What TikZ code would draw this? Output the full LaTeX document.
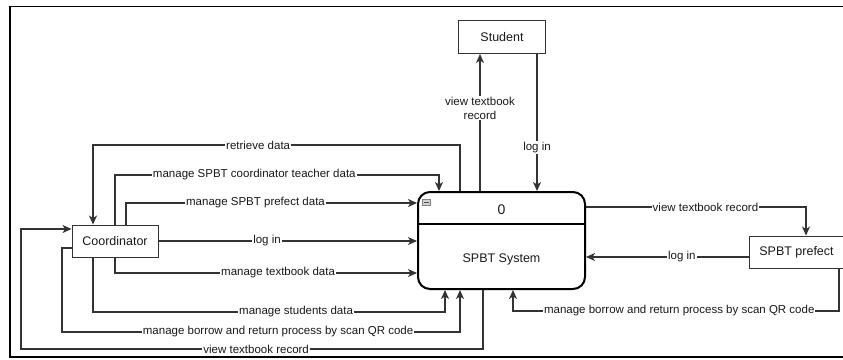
\documentclass[tikz,border=0pt]{standalone}
\usepackage{fontspec}
\setmainfont{Liberation Sans}
\usetikzlibrary{positioning, arrows.meta}

\begin{document}
\begin{tikzpicture}[x=1pt, y=-1pt,
        ent/.style={draw=black!80, line width=0.9pt, minimum height=33pt, text=black!90, font=\fontsize{12.5}{15}\selectfont},
        lbl/.style={fill=white, inner sep=1pt, text=black!90, font=\fontsize{11.5}{13.5}\selectfont},
        flow/.style={draw=black!80, line width=1.4pt, -{Stealth[length=9pt, width=8pt, inset=2.5pt]}}]
        \useasboundingbox (0,0) rectangle (843,359);
        \draw[line width=1.6pt] (10,6.5) rectangle (870,357);

        \node [ent, minimum width=87pt] (student) at (502,37) {Student};
        \node [ent, minimum width=86pt, minimum height=32pt] (coord) at (115,241) {Coordinator};
        \node [ent, minimum width=95pt, minimum height=32pt] (prefect) at (796.5,252) {SPBT prefect};
        \node [draw, line width=2pt, rounded corners=12pt, minimum width=167pt, minimum height=97pt] (sys) at (501.5,240.5) {};
        \node [font=\fontsize{14}{16}\selectfont, text=black!90] (num) at (501.5,210) {0};
        \node [below=32pt of num, font=\fontsize{12.5}{15}\selectfont, text=black!90] (name) {SPBT System};
        \node [draw=gray, fill=gray!35, minimum width=8pt, minimum height=6pt, inner sep=0pt] (ico) at (426.5,202) {};
        \draw [line width=2pt] ([yshift=16.5]sys.west) -- ([yshift=16.5]sys.east);
        \draw [gray!60!black, line width=1pt] ([xshift=-2.5]ico.center) -- ([xshift=2.5]ico.center);

        \draw[flow] ([xshift=-41.5]sys.north) -- (460,145) -- node[lbl, pos=.55]{retrieve data} (93,145) -- ([xshift=-22]coord.north);
        \draw[flow] (coord.north) -- (115,175) -- node[lbl, pos=.43]{manage SPBT coordinator teacher data} (439,175) -- ([xshift=-62.5]sys.north);
        \draw[flow] ([xshift=11]coord.north) -- (126,203) -- node[lbl, pos=.445]{manage SPBT prefect data} ([yshift=37.5]sys.west);
        \draw[flow] (coord.east) -- node[lbl, pos=.42]{log in} ([yshift=-0.5]sys.west);
        \draw[flow] (coord.south) -- (115,273) -- node[lbl, pos=.54]{manage textbook data} ([yshift=-32.5]sys.west);
        \draw[flow] ([xshift=-22]coord.south) -- (93,312) -- node[lbl, pos=.577]{manage students data} (445,312) -- ([xshift=-56.5]sys.south);
        \draw[flow] ([yshift=-7]coord.west) -- (62,248) -- (62,332) -- node[lbl, pos=.543]{manage borrow and return process by scan QR code} (460,332) -- ([xshift=-41.5]sys.south);
        \draw[flow] ([xshift=-18.5]sys.south) -- (483,349) -- node[lbl, pos=.491]{view textbook record} (21,349) -- (21,229) -- ([yshift=12]coord.west);

        \draw[flow] ([xshift=-21.5]sys.north) -- node[lbl, pos=.604, align=center]{view textbook\\record} ([xshift=-22]student.south);
        \draw[flow] ([xshift=35]student.south) -- node[lbl, pos=.683]{log in} ([xshift=35.5]sys.north);

        \draw[flow] ([yshift=33.5]sys.east) -- node[lbl, pos=.543]{view textbook record} (806,207) -- ([xshift=9.5]prefect.north);
        \draw[flow] ([yshift=-5]prefect.west) -- node[lbl, pos=.41]{log in} ([yshift=-16.5]sys.east);
        \draw[flow] ([xshift=42.5]prefect.south) -- (839,311) -- node[lbl, pos=.49]{manage borrow and return process by scan QR code} (513,311) -- ([xshift=11.5]sys.south);
    \end{tikzpicture}
\end{document}
